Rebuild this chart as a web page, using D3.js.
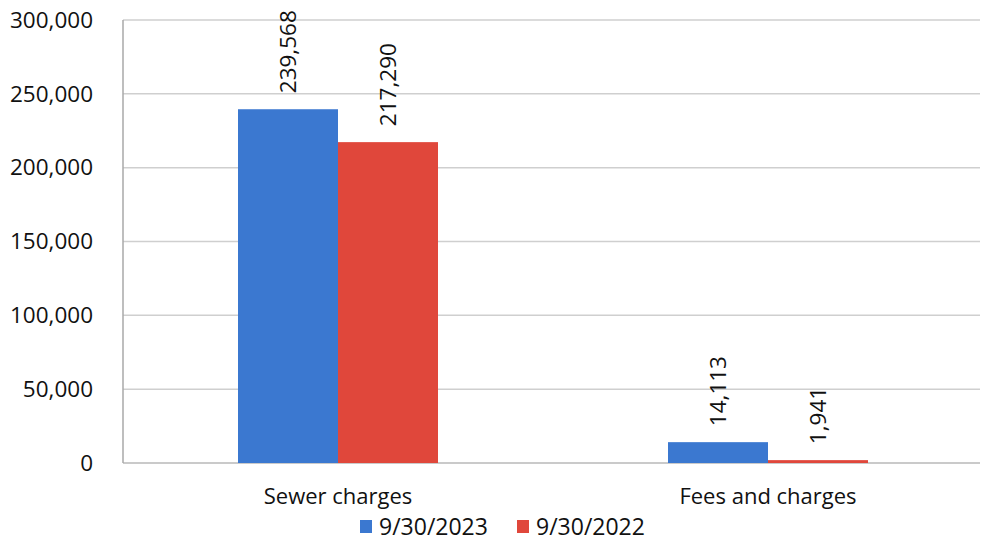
<!DOCTYPE html>
<html>
<head>
<meta charset="utf-8">
<script src="https://cdn.jsdelivr.net/npm/d3@7"></script>
<style>
  html, body { margin: 0; padding: 0; background: #fff; }
  svg { display: block; font-family: "Open Sans", "Noto Sans", sans-serif; }
</style>
</head>
<body>
<svg id="chart" width="985" height="544"></svg>
<script>
// Revenue categories and the two fiscal year-end series
const categories = ["Sewer charges", "Fees and charges"];
const seriesNames = ["9/30/2023", "9/30/2022"];
const values2023 = [239568, 14113];
const values2022 = [217290, 1941];
const yTicks = [0, 50000, 100000, 150000, 200000, 250000, 300000];
const colors = ["#3b78d0", "#e0473b"];

const svg = d3.select("#chart");
const margin = { left: 123, right: 2, top: 20, bottom: 81 };
const W = 985, H = 544;
const plotRight = W - margin.right;
const plotBottom = H - margin.bottom;

const x0 = d3.scaleBand().domain(categories).range([margin.left, plotRight]).padding(0);
const x1 = d3.scaleBand().domain(seriesNames).range([0, x0.bandwidth()]).paddingInner(0).paddingOuter(1.15);
const y = d3.scaleLinear().domain([0, 300000]).range([plotBottom, margin.top]);

const fmt = d3.format(",");

// Horizontal gridlines
svg.append("g")
  .selectAll("line")
  .data(yTicks)
  .join("line")
  .attr("x1", margin.left)
  .attr("x2", plotRight - 3)
  .attr("y1", d => y(d))
  .attr("y2", d => y(d))
  .attr("stroke", d => d === 0 ? "#b8b8b8" : "#cfcfcf")
  .attr("stroke-width", 1.5);

// Left axis line
svg.append("line")
  .attr("x1", margin.left).attr("x2", margin.left)
  .attr("y1", y(300000)).attr("y2", y(0))
  .attr("stroke", "#a8a8a8").attr("stroke-width", 1.5);

// Y axis labels
const yAxis = d3.axisLeft(y).tickValues(yTicks).tickFormat(fmt).tickSize(0).tickPadding(30);
const yg = svg.append("g").attr("transform", `translate(${margin.left},0)`).call(yAxis);
yg.select(".domain").remove();
yg.selectAll("text")
  .attr("font-size", 22.5)
  .attr("fill", "#111")
  .attr("font-family", "'Open Sans', sans-serif");

// Grouped data
const rows = categories.map((c, i) => ({
  category: c,
  items: [
    { series: seriesNames[0], value: values2023[i], color: colors[0] },
    { series: seriesNames[1], value: values2022[i], color: colors[1] }
  ]
}));

const groups = svg.append("g")
  .selectAll("g")
  .data(rows)
  .join("g")
  .attr("transform", d => `translate(${x0(d.category)},0)`);

groups.selectAll("rect")
  .data(d => d.items)
  .join("rect")
  .attr("x", d => x1(d.series))
  .attr("width", x1.bandwidth())
  .attr("y", d => y(d.value))
  .attr("height", d => y(0) - y(d.value))
  .attr("fill", d => d.color);

// Rotated value labels above each bar
groups.selectAll("text.val")
  .data(d => d.items)
  .join("text")
  .attr("class", "val")
  .attr("transform", d => `translate(${x1(d.series) + x1.bandwidth() / 2 + 8},${y(d.value) - 16}) rotate(-90)`)
  .attr("text-anchor", "start")
  .attr("font-size", 22.5)
  .attr("fill", "#111")
  .text(d => fmt(d.value));

// Category labels
svg.append("g")
  .selectAll("text")
  .data(categories)
  .join("text")
  .attr("x", d => x0(d) + x0.bandwidth() / 2)
  .attr("y", 504)
  .attr("text-anchor", "middle")
  .attr("font-size", 22)
  .attr("fill", "#111")
  .text(d => d);

// Legend
const legendItems = [
  { name: seriesNames[0], color: colors[0], x: 360 },
  { name: seriesNames[1], color: colors[1], x: 517 }
];
const lg = svg.append("g").selectAll("g").data(legendItems).join("g")
  .attr("transform", d => `translate(${d.x},0)`);
lg.append("rect")
  .attr("x", 0).attr("y", 520).attr("width", 12).attr("height", 13)
  .attr("fill", d => d.color);
lg.append("text")
  .attr("x", 19).attr("y", 535)
  .attr("font-size", 23)
  .attr("fill", "#111")
  .text(d => d.name);
</script>
</body>
</html>
